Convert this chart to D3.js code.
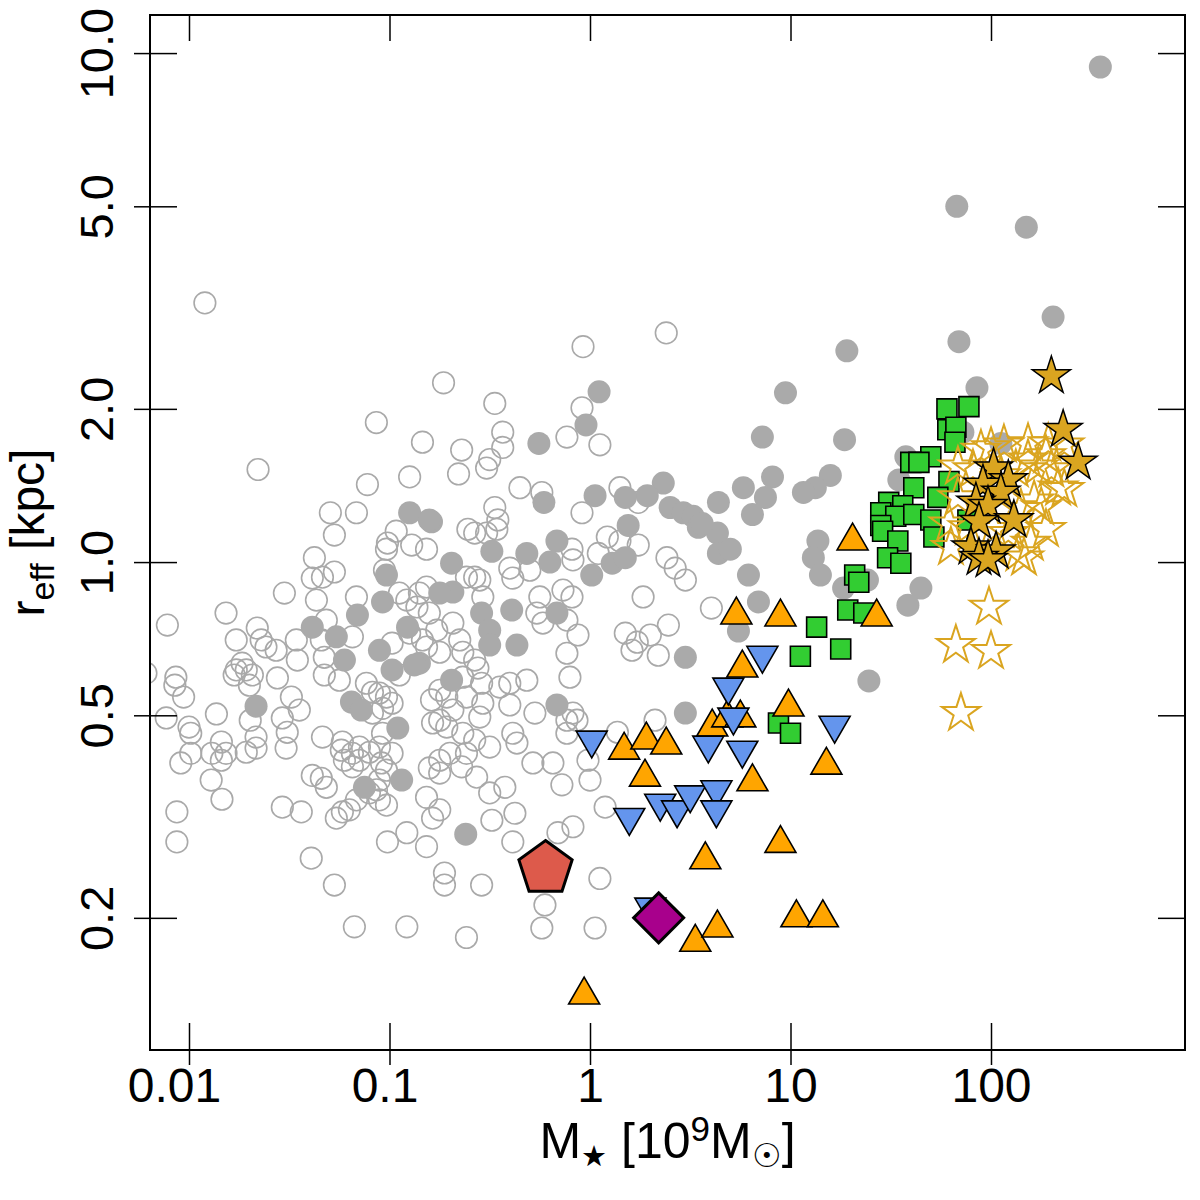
<!DOCTYPE html>
<html>
<head>
<meta charset="utf-8">
<script src="https://cdn.jsdelivr.net/npm/d3@7"></script>
<style>
  body { margin: 0; background: #fff; }
  text { font-family: "Liberation Sans", Arial, Helvetica, sans-serif; }
</style>
</head>
<body>
<script>
// stellar mass [10^9 Msun], effective radius [kpc]
const grayOpen = [
  [0.012,3.23],[0.0221,1.52],[0.086,1.88],[0.146,1.72],[0.126,1.47],[0.0776,1.42],[0.0507,1.25],[0.0684,1.25],
  [0.0531,1.13],[0.108,1.15],[0.0977,1.09],[0.0966,1.06],[0.129,1.08],[0.153,1.06],[0.186,2.25],[0.0422,1.02],
  [0.0078,0.752],[0.0061,0.605],[0.0086,0.594],[0.0085,0.573],[0.0094,0.543],[0.0077,0.494],[0.01,0.474],[0.0102,0.461],
  [0.0102,0.421],[0.0091,0.403],[0.0137,0.503],[0.0129,0.373],[0.0146,0.342],[0.0087,0.323],[0.0087,0.282],[0.0153,0.794],
  [0.0172,0.703],[0.0219,0.742],[0.0229,0.703],[0.0242,0.681],[0.0272,0.671],[0.0172,0.614],[0.0184,0.633],[0.0193,0.614],
  [0.0207,0.6],[0.0168,0.6],[0.02,0.573],[0.0276,0.592],[0.0324,0.543],[0.0299,0.869],[0.0343,0.703],[0.0347,0.642],
  [0.0202,0.489],[0.0292,0.494],[0.0355,0.512],[0.0309,0.463],[0.0305,0.431],[0.0216,0.453],[0.0216,0.431],[0.0193,0.423],
  [0.0153,0.421],[0.0145,0.443],[0.013,0.421],[0.0145,0.408],[0.0292,0.33],[0.0363,0.323],[0.0407,0.262],[0.0531,0.232],
  [0.0668,0.192],[0.122,0.192],[0.0412,0.93],[0.0463,0.934],[0.0531,0.956],[0.0432,0.842],[0.0484,0.769],[0.0457,0.703],
  [0.0473,0.65],[0.0473,0.6],[0.0562,0.586],[0.0653,0.713],[0.0684,0.854],[0.0944,0.964],[0.112,0.869],[0.122,0.842],
  [0.137,0.816],[0.141,0.869],[0.153,0.893],[0.126,0.725],[0.146,0.703],[0.103,0.693],[0.112,0.6],[0.0767,0.578],
  [0.0822,0.555],[0.0891,0.553],[0.0966,0.543],[0.103,0.528],[0.0923,0.516],[0.0822,0.505],[0.0463,0.453],[0.0582,0.443],
  [0.0575,0.427],[0.0596,0.408],[0.0653,0.421],[0.0708,0.433],[0.0708,0.408],[0.0653,0.396],[0.0794,0.423],[0.0891,0.433],
  [0.103,0.421],[0.0923,0.461],[0.0966,0.39],[0.0912,0.403],[0.0891,0.373],[0.0861,0.357],[0.0794,0.352],[0.0891,0.341],
  [0.0966,0.333],[0.0684,0.341],[0.0631,0.326],[0.0582,0.323],[0.0543,0.314],[0.0412,0.381],[0.0457,0.376],[0.0484,0.361],
  [0.0977,0.282],[0.122,0.294],
  [0.923,2.65],[2.4,2.82],[0.335,2.05],[0.912,2.01],[0.367,1.8],[0.767,1.76],[1.12,1.7],[0.229,1.66],
  [0.316,1.59],[0.305,1.53],[0.221,1.49],[0.367,1.68],[0.447,1.4],[0.575,1.37],[0.912,1.25],[1.41,1.4],
  [1.74,1.31],[0.335,1.28],[0.347,1.21],[0.246,1.16],[0.266,1.14],[0.305,1.14],[0.343,1.16],[1.22,1.12],
  [1.41,1.1],[1.74,1.08],[2.42,1.02],[2.66,0.973],[2.99,0.922],[0.398,0.973],[0.412,0.93],[0.501,0.964],
  [0.813,1.06],[0.822,1.01],[1.1,1.04],[0.242,0.934],[0.266,0.934],[0.282,0.922],[0.292,0.854],[0.562,0.854],
  [0.733,0.881],[0.813,0.854],[1.84,0.854],[4.03,0.812],
  [0.158,0.794],[0.207,0.759],[0.172,0.735],[0.224,0.703],[0.153,0.681],[0.178,0.665],[0.232,0.665],[0.266,0.642],
  [0.276,0.619],[0.232,0.594],[0.288,0.578],[0.178,0.56],[0.162,0.536],[0.193,0.543],[0.207,0.512],[0.242,0.543],
  [0.292,0.528],[0.282,0.496],[0.178,0.489],[0.193,0.474],[0.164,0.483],[0.232,0.461],[0.266,0.447],[0.316,0.433],
  [0.2,0.421],[0.178,0.408],[0.242,0.421],[0.229,0.396],[0.178,0.385],[0.158,0.394],[0.272,0.378],[0.316,0.352],
  [0.153,0.345],[0.178,0.326],[0.164,0.314],[0.153,0.276],[0.188,0.245],[0.188,0.232],[0.288,0.232],[0.242,0.183],
  [0.355,0.568],[0.398,0.578],[0.484,0.586],[0.398,0.524],[0.531,0.505],[0.412,0.461],[0.432,0.441],[0.519,0.403],
  [0.653,0.403],[0.724,0.365],[0.376,0.361],[0.324,0.311],[0.422,0.321],[0.412,0.282],[0.692,0.294],[0.822,0.302],
  [0.977,0.408],[1.0,0.373],[1.19,0.33],[0.767,0.662],[0.794,0.594],[0.767,0.461],[0.822,0.505],[0.861,0.489],
  [0.767,0.489],[0.871,0.719],[0.767,0.769],[0.582,0.759],[0.543,0.794],[1.12,0.239],[0.596,0.212],[0.575,0.191],
  [1.06,0.191],[1.5,0.725],[1.72,0.696],[2.0,0.719],[2.19,0.656],[1.62,0.671],[2.46,0.752],[1.37,0.463],[2.11,0.489]
];

const grayFilled = [
  [351,9.39],[67.5,5.0],[150,4.55],[204,3.03],[69.2,2.71],[19.1,2.6],[85.1,2.2],[9.44,2.15],[1.11,2.16],[0.955,1.86],
  [7.24,1.76],[18.6,1.74],[112,1.71],[0.556,1.71],[15.8,1.48],[8.13,1.47],[5.82,1.4],[13.3,1.4],[11.6,1.37],[7.5,1.34],
  [4.37,1.31],[2.32,1.43],[1.93,1.35],[1.5,1.34],[1.06,1.35],[0.589,1.31],[2.51,1.28],[2.92,1.25],[3.27,1.23],[3.47,1.17],
  [4.32,1.14],[4.37,1.04],[6.46,1.24],[3.63,1.19],[5.01,1.06],[13.7,1.1],[13.0,1.02],[14.1,0.943],[6.17,0.943],[6.92,0.835],
  [18.4,0.889],[24.2,0.922],[44.7,0.889],[38.5,0.823],[24.6,0.584],[5.5,0.732],[1.55,1.18],[0.684,1.1],[0.631,1.0],[0.484,1.04],
  [1.02,0.943],[1.29,0.995],[1.5,1.02],[0.324,1.05],[0.204,0.995],[0.162,1.2],[0.207,0.873],[0.178,0.869],[0.126,1.25],[0.158,1.21],
  [0.0966,0.943],[0.288,0.794],[0.316,0.735],[0.316,0.687],[0.407,0.805],[0.432,0.687],[0.684,0.794],[0.141,0.633],[0.204,0.586],[0.684,0.524],
  [2.99,0.65],[2.99,0.505],[0.24,0.292],[0.0923,0.835],[0.0692,0.787],[0.0412,0.745],[0.0543,0.713],[0.0596,0.642],[0.0891,0.671],[0.123,0.745],
  [0.103,0.614],[0.133,0.628],[0.0216,0.521],[0.0646,0.531],[0.0724,0.512],[0.11,0.472],[0.075,0.361],[0.115,0.373],[72.4,1.8],[37.6,1.61],
  [34.7,1.45]
];

const greenSquares = [
  [60.3,2.0],[77.6,2.02],[60.9,1.82],[66.8,1.84],[66.1,1.72],[50.1,1.61],[39.8,1.57],[43.7,1.57],[61.7,1.44],[41.2,1.4],
  [54.3,1.34],[30.9,1.31],[28.2,1.25],[36.3,1.29],[33.5,1.23],[41.2,1.24],[50.1,1.21],[51.9,1.12],[28.2,1.18],[28.8,1.15],
  [34.3,1.1],[30.5,1.02],[35.5,0.995],[20.9,0.943],[21.9,0.913],[19.3,0.805],[23.2,0.794],[76.7,1.21],[13.5,0.745],[17.8,0.675],
  [11.2,0.653],[8.71,0.483],[10.0,0.461]
];

const openStars = [
  [68.4,1.54],[81.3,1.52],[100,1.68],[116,1.7],[153,1.71],[153,1.59],[172,1.54],[216,1.4],[232,1.39],[178,1.28],
  [164,1.32],[141,1.27],[68.4,1.34],[61.7,1.19],[63.1,1.07],[158,1.09],[146,1.02],[137,1.04],[122,1.14],[103,1.16],
  [76.7,1.17],[188,1.62],[200,1.52],[89.1,1.66],[112,1.48],[133,1.52],[188,1.16],[97.7,0.816],[66.8,0.687],[100,0.668],
  [70.8,0.505],[193,1.71],[232,1.7]
];

const filledStars = [
  [200,2.32],[229,1.82],[272,1.57],[103,1.53],[122,1.45],[91.2,1.42],[112,1.37],[84.1,1.31],[96.6,1.29],[130,1.21],
  [87.1,1.2],[79.4,1.07],[106,1.05],[87.1,1.02],[96.6,1.01]
];

const orangeUp = [
  [0.935,0.141],[1.48,0.427],[1.91,0.447],[2.4,0.437],[1.88,0.378],[3.76,0.26],[3.35,0.179],[4.32,0.191],[4.07,0.474],[4.84,0.494],
  [5.62,0.494],[5.37,0.787],[5.75,0.619],[6.46,0.37],[8.91,0.78],[8.91,0.28],[9.77,0.519],[10.7,0.2],[14.5,0.2],[15.1,0.399],
  [20.4,1.1],[26.9,0.78]
];

const blueDown = [
  [1.02,0.447],[1.57,0.315],[2.24,0.336],[2.72,0.326],[3.16,0.349],[4.27,0.357],[4.27,0.326],[3.89,0.437],[5.75,0.427],[4.9,0.568],
  [7.24,0.656],[16.6,0.478],[5.19,0.496],[2.0,0.21]
];

const pentagonPts = [[0.6, 0.25]];
const diamondPts = [[2.2, 0.2]];

const xTicks = [0.01, 0.1, 1, 10, 100];
const xTickLabels = ["0.01", "0.1", "1", "10", "100"];
const yTicks = [0.2, 0.5, 1, 2, 5, 10];
const yTickLabels = ["0.2", "0.5", "1.0", "2.0", "5.0", "10.0"];

const width = 1200, height = 1200;
const plotL = 150, plotR = 1185, plotT = 15, plotB = 1050;

const svg = d3.select("body").append("svg")
  .attr("width", width)
  .attr("height", height);

const x = d3.scaleLog().domain([0.00639, 928]).range([plotL, plotR]);
const y = d3.scaleLog().domain([0.110, 11.88]).range([plotB, plotT]);

svg.append("defs").append("clipPath").attr("id", "plotclip")
  .append("rect")
  .attr("x", plotL).attr("y", plotT)
  .attr("width", plotR - plotL).attr("height", plotB - plotT);

const plot = svg.append("g").attr("clip-path", "url(#plotclip)");

// custom symbol shapes
const pentagonType = {
  draw(ctx, size) {
    const r = Math.sqrt(size);
    for (let i = 0; i < 5; i++) {
      const a = -Math.PI / 2 + i * 2 * Math.PI / 5;
      if (i === 0) ctx.moveTo(r * Math.cos(a), r * Math.sin(a));
      else ctx.lineTo(r * Math.cos(a), r * Math.sin(a));
    }
    ctx.closePath();
  }
};
const diamondType = {
  draw(ctx, size) {
    const r = Math.sqrt(size);
    ctx.moveTo(0, -r); ctx.lineTo(r, 0); ctx.lineTo(0, r); ctx.lineTo(-r, 0);
    ctx.closePath();
  }
};

const pos = d => `translate(${x(d[0])},${y(d[1])})`;

// gray open circles
plot.append("g").selectAll("circle")
  .data(grayOpen)
  .enter()
  .append("circle")
  .attr("cx", d => x(d[0]))
  .attr("cy", d => y(d[1]))
  .attr("r", 10.8)
  .style("fill", "none")
  .style("stroke", "#a9a9a9")
  .style("stroke-width", 1.6);

// gray filled circles
plot.append("g").selectAll("circle")
  .data(grayFilled)
  .enter()
  .append("circle")
  .attr("cx", d => x(d[0]))
  .attr("cy", d => y(d[1]))
  .attr("r", 11.5)
  .style("fill", "#aaaaaa");

// green squares
plot.append("g").selectAll("path")
  .data(greenSquares)
  .enter()
  .append("path")
  .attr("transform", pos)
  .attr("d", d3.symbol().type(d3.symbolSquare).size(400))
  .style("fill", "#32cd32")
  .style("stroke", "#000")
  .style("stroke-width", 1.6);

// open stars
plot.append("g").selectAll("path")
  .data(openStars)
  .enter()
  .append("path")
  .attr("transform", pos)
  .attr("d", d3.symbol().type(d3.symbolStar).size(450))
  .style("fill", "none")
  .style("stroke", "#daa520")
  .style("stroke-width", 2);

// filled stars
plot.append("g").selectAll("path")
  .data(filledStars)
  .enter()
  .append("path")
  .attr("transform", pos)
  .attr("d", d3.symbol().type(d3.symbolStar).size(450))
  .style("fill", "#daa520")
  .style("stroke", "#000")
  .style("stroke-width", 1.5);

// orange triangles
plot.append("g").selectAll("path")
  .data(orangeUp)
  .enter()
  .append("path")
  .attr("transform", pos)
  .attr("d", d3.symbol().type(d3.symbolTriangle).size(416))
  .style("fill", "#ffa500")
  .style("stroke", "#000")
  .style("stroke-width", 1.6);

// blue down triangles
plot.append("g").selectAll("path")
  .data(blueDown)
  .enter()
  .append("path")
  .attr("transform", d => pos(d) + " rotate(180)")
  .attr("d", d3.symbol().type(d3.symbolTriangle).size(416))
  .style("fill", "#6495ed")
  .style("stroke", "#000")
  .style("stroke-width", 1.6);

// pentagon
plot.append("g").selectAll("path")
  .data(pentagonPts)
  .enter()
  .append("path")
  .attr("transform", pos)
  .attr("d", d3.symbol().type(pentagonType).size(28 * 28))
  .style("fill", "#dd5a4b")
  .style("stroke", "#000")
  .style("stroke-width", 3);

// diamond
plot.append("g").selectAll("path")
  .data(diamondPts)
  .enter()
  .append("path")
  .attr("transform", pos)
  .attr("d", d3.symbol().type(diamondType).size(25 * 25))
  .style("fill", "#a8008c")
  .style("stroke", "#000")
  .style("stroke-width", 3);

// box
svg.append("rect")
  .attr("x", plotL).attr("y", plotT)
  .attr("width", plotR - plotL).attr("height", plotB - plotT)
  .style("fill", "none")
  .style("stroke", "#000")
  .style("stroke-width", 2);

function styleAxis(g, size) {
  g.select(".domain").remove();
  g.selectAll(".tick line").style("stroke-width", 1.5);
  g.selectAll("text")
    .style("font-family", '"Liberation Sans", Arial, Helvetica, sans-serif')
    .style("font-size", (size || 46) + "px")
    .style("fill", "#000");
}

// bottom axis: outward ticks with labels, plus inward ticks
const xLabelShift = [-15, -5, 0, 0, 0];
svg.append("g")
  .attr("transform", `translate(0,${plotB})`)
  .call(d3.axisBottom(x).tickValues(xTicks).tickFormat((d, i) => xTickLabels[i]).tickSize(15).tickSizeOuter(0).tickPadding(3))
  .call(styleAxis, 48)
  .call(g => g.selectAll("text").attr("dx", (d, i) => xLabelShift[i]));
svg.append("g")
  .attr("transform", `translate(0,${plotB})`)
  .call(d3.axisTop(x).tickValues(xTicks).tickFormat("").tickSize(27).tickSizeOuter(0))
  .call(styleAxis);

// top axis: inward ticks only
svg.append("g")
  .attr("transform", `translate(0,${plotT})`)
  .call(d3.axisBottom(x).tickValues(xTicks).tickFormat("").tickSize(26).tickSizeOuter(0))
  .call(styleAxis);

// left axis: outward ticks with rotated labels, plus inward ticks
svg.append("g")
  .attr("transform", `translate(${plotL},0)`)
  .call(d3.axisLeft(y).tickValues(yTicks).tickFormat((d, i) => yTickLabels[i]).tickSize(16).tickSizeOuter(0))
  .call(styleAxis, 47)
  .call(g => g.selectAll("text")
    .attr("transform", "rotate(-90)")
    .attr("x", 0)
    .attr("y", -37)
    .attr("dy", 0)
    .style("text-anchor", "middle"));
svg.append("g")
  .attr("transform", `translate(${plotL},0)`)
  .call(d3.axisRight(y).tickValues(yTicks).tickFormat("").tickSize(27).tickSizeOuter(0))
  .call(styleAxis);

// right axis: inward ticks only
svg.append("g")
  .attr("transform", `translate(${plotR},0)`)
  .call(d3.axisLeft(y).tickValues(yTicks).tickFormat("").tickSize(27).tickSizeOuter(0))
  .call(styleAxis);

// x title
const xt = svg.append("text")
  .attr("x", (plotL + plotR) / 2)
  .attr("y", 1158)
  .style("text-anchor", "middle")
  .style("font-size", "50px");
xt.append("tspan").text("M");
xt.append("tspan").text("\u2605").style("font-size", "29px").attr("dy", 8);
xt.append("tspan").text(" [10").style("font-size", "50px").attr("dy", -8);
xt.append("tspan").text("9").style("font-size", "35px").attr("dy", -17);
xt.append("tspan").text("M").style("font-size", "50px").attr("dy", 17);
xt.append("tspan").text("\u2609").style("font-size", "33px").attr("dy", 9);
xt.append("tspan").text("]").style("font-size", "50px").attr("dy", -9);

// y title
const yt = svg.append("text")
  .attr("transform", `translate(44,${(plotT + plotB) / 2}) rotate(-90)`)
  .style("text-anchor", "middle")
  .style("font-size", "48px");
yt.append("tspan").text("r");
yt.append("tspan").text("eff").style("font-size", "34px").attr("dy", 10);
yt.append("tspan").text(" [kpc]").style("font-size", "48px").attr("dy", -10);
</script>
</body>
</html>
